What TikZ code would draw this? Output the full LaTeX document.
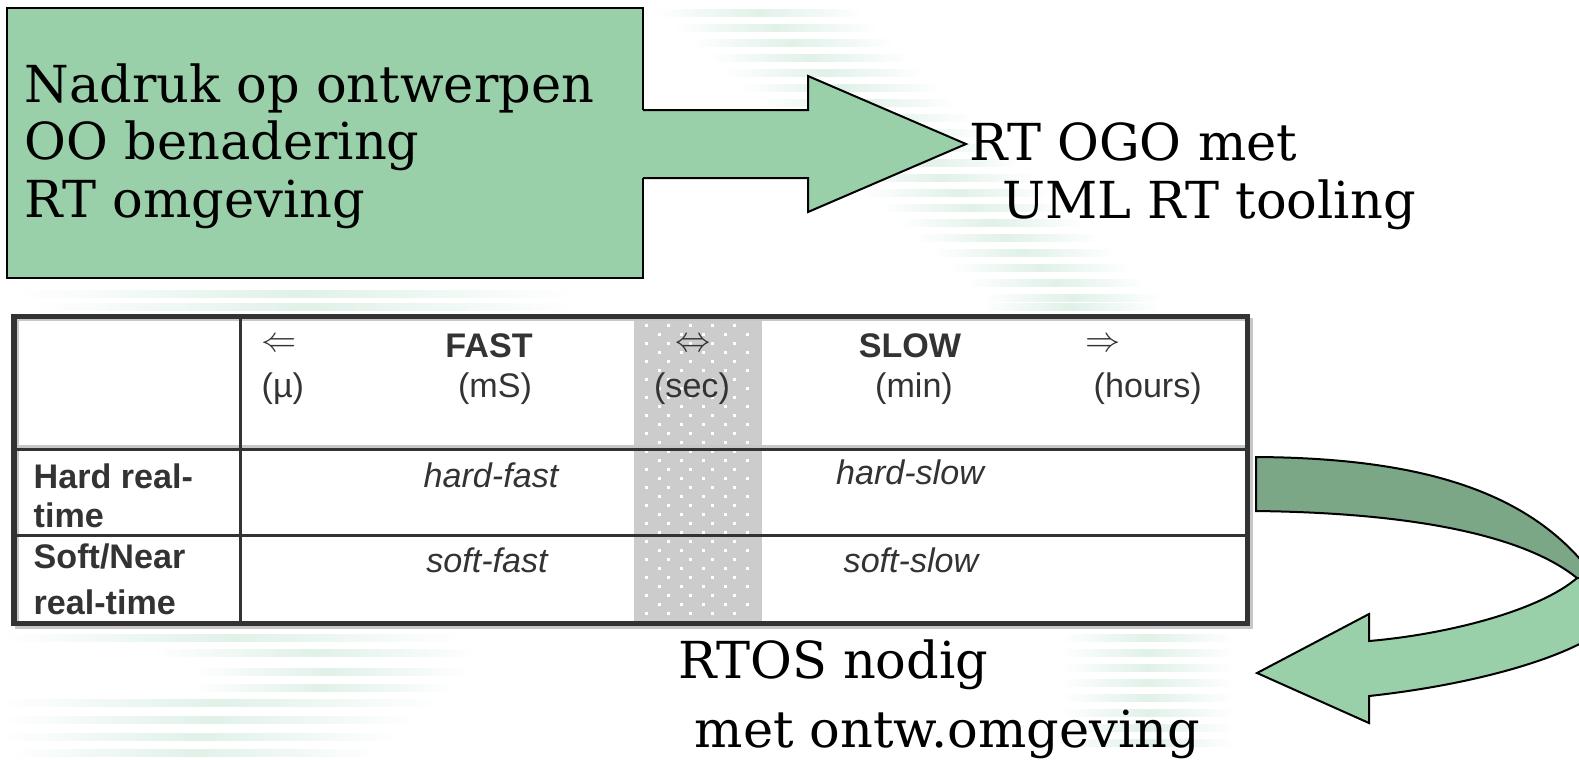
\documentclass[tikz,border=0pt]{standalone}
\usepackage{fontspec}
\setmainfont{DejaVu Serif}
\newfontfamily\tablefont{Liberation Sans}
\usetikzlibrary{positioning}
\definecolor{boxgreen}{HTML}{99D0A9}
\definecolor{darkgreen}{HTML}{7BA787}
\definecolor{streakgreen}{HTML}{E0F1E8}
\definecolor{tabgray}{HTML}{CCCCCC}
\definecolor{tabline}{HTML}{333333}

\begin{document}
\begin{tikzpicture}[x=0.01cm, y=-0.01cm,
    greenbox/.style={draw=black, fill=boxgreen, line width=0.02cm},
    outline/.style={draw=black, line width=0.02cm, line join=miter},
    bigtext/.style={font=\fontsize{14.5pt}{16.4pt}\selectfont, inner sep=0},
    tabtext/.style={font=\tablefont\fontsize{9.7pt}{11pt}\selectfont, text=tabline, inner sep=0},
    tabhead/.style={tabtext, font=\tablefont\bfseries\fontsize{9.7pt}{11pt}\selectfont},
    tabcell/.style={tabtext, font=\tablefont\itshape\fontsize{9.7pt}{11pt}\selectfont},
    frame/.style={tabline, line width=0.05cm},
    gridline/.style={tabline, line width=0.03cm},
    shadowline/.style={black!22, line width=0.03cm},
    streak/.style={left color=white, right color=white, middle color=streakgreen}]
    \useasboundingbox (0,0) rectangle (1579,759);
    \clip (0,0) rectangle (1579,759);
    % background streaks
    \foreach \y in {13,28,...,298}
        \shade[streak] ({640+1.15*\y},\y-3.5) rectangle ({850+1.05*\y},\y+3.5);
    \shade[streak] (15,290) rectangle (580,297);
    \shade[streak] (33,303) rectangle (580,310);
    \shade[streak] (980,303) rectangle (1160,310);
    \foreach \y/\a/\b in {638/0/467, 653/150/480, 672/190/470, 688/190/455,
                          703/0/440, 720/0/420, 737/0/400, 753/10/380}
        \shade[streak] (\a,\y-3.5) rectangle (\b,\y+3.5);
    \foreach \y in {638,653,...,753}
        \shade[streak] (1060,\y-3.5) rectangle (1235,\y+3.5);

    % box with block arrow
    \node[greenbox, minimum width=6.36cm, minimum height=2.70cm, inner sep=0] (nadruk) at (325,143) {};
    \fill[boxgreen] (641,110) -- (808,110) -- (808,76) -- (966,144) -- (808,212) -- (808,178) -- (641,178) -- cycle;
    \draw[outline] (643,110) -- (808,110) -- (808,76) -- (966,144) -- (808,212) -- (808,178) -- (643,178);
    \node[bigtext, anchor=west, align=left] (nadruktxt) at (24,146)
        {Nadruk op ontwerpen\\OO benadering\\RT omgeving};
    \node[bigtext, anchor=base west] (ogo) at (969,160) {RT OGO met};
    \node[bigtext, anchor=base west] (uml) at (1002,218) {UML RT tooling};

    % table
    \fill[tabgray] (634,318) rectangle (762,621);
    \foreach \x in {645,667,689,711,733}
        \foreach \y in {324,342,...,612} {
            \fill[white] (\x,\y) rectangle ++(2.5,2.5);
            \fill[white] (\x+13,\y+9) rectangle ++(2.5,2.5);
        }
    \draw[shadowline] (17,319) rectangle (1251,627);
    \draw[shadowline] (14,446) -- (1247,446);
    \draw[frame] (14,316) rectangle (1247,623);
    \draw[gridline] (240,316) -- (240,623);
    \draw[gridline] (14,449) -- (1247,449);
    \draw[gridline] (14,535) -- (1247,535);
    % header
    \node[tabtext] (larr) at (279,345) {$\Leftarrow$};
    \node[tabtext] (lrarr) at (693,345) {$\Leftrightarrow$};
    \node[tabtext] (rarr) at (1103,345) {$\Rightarrow$};
    \node[tabhead, anchor=base] (fast) at (489,357) {FAST};
    \node[tabhead, anchor=base] (slow) at (910,357) {SLOW};
    \node[tabtext, anchor=base west] (mu) at (261,397) {(µ)};
    \node[tabtext, anchor=base] (ms) at (495,397) {(mS)};
    \node[tabtext, anchor=base] (sec) at (692,397) {(sec)};
    \node[tabtext, anchor=base] (min) at (914,397) {(min)};
    \node[tabtext, anchor=base west] (hours) at (1093,397) {(hours)};
    % rows
    \node[tabhead, anchor=base west] (hard) at (33,488) {Hard real-};
    \node[tabhead, anchor=base west] (hardtime) at (33,527) {time};
    \node[tabhead, anchor=base west] (soft) at (33,568) {Soft/Near};
    \node[tabhead, anchor=base west] (softtime) at (33,614) {real-time};
    \node[tabcell, anchor=base] (hf) at (491,487) {hard-fast};
    \node[tabcell, anchor=base] (hs) at (910,484) {hard-slow};
    \node[tabcell, anchor=base] (sf) at (487,572) {soft-fast};
    \node[tabcell, anchor=base] (ss) at (911,572) {soft-slow};

    % curved arrow
    \filldraw[outline, fill=darkgreen] (1256,457) .. controls (1430,458) and (1540,495) .. (1600,585)
        -- (1577,578) .. controls (1530,540) and (1430,513) .. (1256,511) -- cycle;
    \filldraw[outline, fill=boxgreen] (1577,578) -- (1600,580) -- (1600,632)
        .. controls (1560,660) and (1470,685) .. (1369,696)
        -- (1369,723) -- (1257,673) -- (1369,614) -- (1369,641)
        .. controls (1450,634) and (1540,610) .. (1577,578) -- cycle;
    \node[bigtext, anchor=base west] (rtos) at (678,678) {RTOS nodig};
    \node[bigtext, anchor=base west] (ontw) at (694,747) {met ontw.omgeving};
\end{tikzpicture}
\end{document}
